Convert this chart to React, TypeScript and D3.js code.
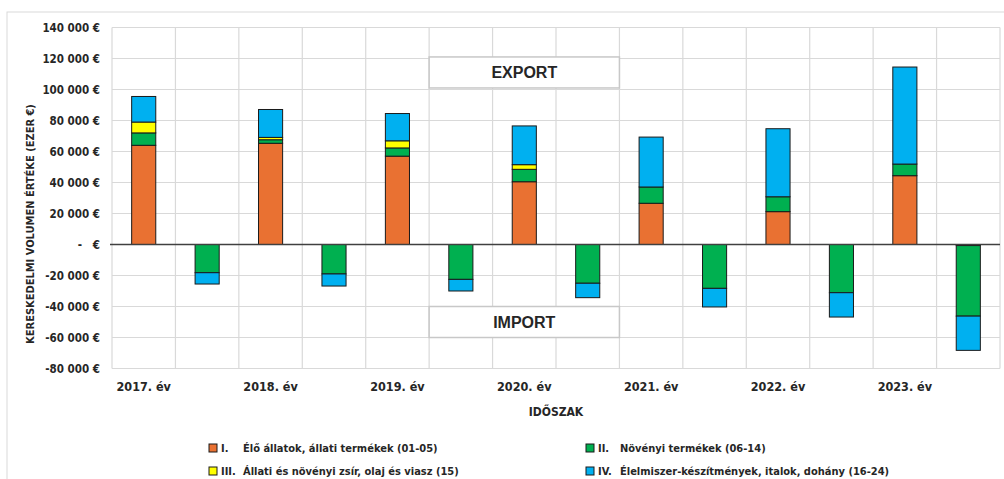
import * as React from 'react';
import * as d3 from 'd3';

// kereskedelmi volumen, ezer €
const years = ['2017. év', '2018. év', '2019. év', '2020. év', '2021. év', '2022. év', '2023. év'];
const seriesKeys = ['I', 'II', 'III', 'IV'];
const seriesColors = ['#E97132', '#00B050', '#FFFF00', '#00B0F0'];
const seriesNumerals = ['I.', 'II.', 'III.', 'IV.'];
const seriesNames = [
  'Élő állatok, állati termékek (01-05)',
  'Növényi termékek (06-14)',
  'Állati és növényi zsír, olaj és viasz (15)',
  'Élelmiszer-készítmények, italok, dohány (16-24)',
];

const exportI = [64000, 65300, 57000, 40500, 26600, 21200, 44400];
const exportII = [8000, 2300, 5300, 8000, 10500, 9600, 7500];
const exportIII = [7000, 1500, 4600, 3000, 0, 0, 0];
const exportIV = [16500, 18000, 17600, 25000, 32200, 43900, 62600];

const importI = [0, 0, 0, 0, 0, 0, -700];
const importII = [-18200, -19000, -22500, -25000, -28300, -31100, -45500];
const importIII = [0, 0, 0, 0, 0, 0, 0];
const importIV = [-7300, -7800, -7500, -9300, -12000, -15700, -22100];

const yTicks = [140000, 120000, 100000, 80000, 60000, 40000, 20000, 0, -20000, -40000, -60000, -80000];

const W = 1004;
const H = 479;
const font = '"Liberation Sans Narrow", "Arial Narrow", "DejaVu Sans Condensed", sans-serif';

type Row = { key: string; label: string; I: number; II: number; III: number; IV: number };

const rows: Row[] = years.flatMap((y, i) => [
  { key: y + '-exp', label: y, I: exportI[i], II: exportII[i], III: exportIII[i], IV: exportIV[i] },
  { key: y + '-imp', label: '', I: importI[i], II: importII[i], III: importIII[i], IV: importIV[i] },
]);

const locale = d3.formatLocale({
  decimal: ',',
  thousands: '\u00a0',
  grouping: [3],
  currency: ['', ' €'],
  minus: '-',
});
const fmt = locale.format(',');
const tickText = (v: number) => (v === 0 ? '-\u00a0\u00a0\u00a0€' : `${fmt(v)}\u00a0€`);

export default function App() {
  const x = d3
    .scaleBand()
    .domain(rows.map((r) => r.key))
    .range([112, 1000])
    .paddingInner(0.62)
    .paddingOuter(0.31);
  const y = d3.scaleLinear().domain([-80000, 140000]).range([368.5, 27.5]);

  const stacked = d3
    .stack<Row>()
    .keys(seriesKeys)
    .offset(d3.stackOffsetDiverging)(rows);

  const step = x.step();
  const [x0, x1] = x.range();
  const boundaries = d3.range(rows.length + 1).map((i) => x0 + i * step);

  // boxes span categories 5..7
  const boxX = x0 + 5 * step;
  const boxW = 3 * step;

  return (
    <svg width={W} height={H} style={{ position: 'fixed', left: 0, top: 0, background: '#fff' }} fontFamily={font}>
      <rect x={7} y={12} width={W + 20} height={H + 20} fill="#fff" stroke="#d9d9d9" strokeWidth={1} />

      {/* grid */}
      <g stroke="#d9d9d9" strokeWidth={1.2}>
        {yTicks.map((t) => (
          <line key={t} x1={x0} x2={x1} y1={y(t)} y2={y(t)} />
        ))}
        {boundaries.map((b, i) => (
          <line key={i} x1={b} x2={b} y1={y(140000)} y2={y(-80000)} />
        ))}
      </g>

      {/* annotation boxes */}
      <rect x={boxX} y={y(121000)} width={boxW} height={y(101000) - y(121000)} fill="#fff" stroke="#c8c8c8" strokeWidth={1.5} />
      <text x={boxX + boxW / 2} y={(y(121000) + y(101000)) / 2} textAnchor="middle" dominantBaseline="central" fontFamily='"Liberation Sans", Arial, sans-serif' fontWeight="bold" fontSize={16} fill="#262626">
        EXPORT
      </text>
      <rect x={boxX} y={y(-40000)} width={boxW} height={y(-60000) - y(-40000)} fill="#fff" stroke="#c8c8c8" strokeWidth={1.5} />
      <text x={boxX + boxW / 2} y={(y(-40000) + y(-60000)) / 2} textAnchor="middle" dominantBaseline="central" fontFamily='"Liberation Sans", Arial, sans-serif' fontWeight="bold" fontSize={16} fill="#262626">
        IMPORT
      </text>

      {/* bars */}
      {stacked.map((s, si) => (
        <g key={s.key} fill={seriesColors[si]} stroke="#1a1a1a" strokeWidth={1}>
          {s.map((d, i) => {
            const top = y(Math.max(d[0], d[1]));
            const bot = y(Math.min(d[0], d[1]));
            return <rect key={i} x={x(rows[i].key)} width={x.bandwidth()} y={top} height={bot - top} />;
          })}
        </g>
      ))}

      {/* zero line */}
      <line x1={x0 - 2} x2={x1} y1={y(0)} y2={y(0)} stroke="#404040" strokeWidth={1.5} />

      {/* y axis labels */}
      <g fontSize={11.5} fontWeight="bold" fill="#262626" textAnchor="end">
        {yTicks.map((t) => (
          <text key={t} x={100} y={y(t)} dominantBaseline="central">
            {tickText(t)}
          </text>
        ))}
      </g>
      <text
        transform="translate(30, 224) rotate(-90)"
        textAnchor="middle"
        dominantBaseline="central"
        fontSize={11}
        fontWeight="bold"
        fill="#262626"
      >
        KERESKEDELMI VOLUMEN ÉRTÉKE (EZER €)
      </text>

      {/* x axis labels */}
      <g fontSize={12.5} fontWeight="bold" fill="#262626" textAnchor="middle">
        {rows.map((r) =>
          r.label ? (
            <text key={r.key} x={(x(r.key) ?? 0) + x.bandwidth() / 2} y={386} dominantBaseline="central">
              {r.label}
            </text>
          ) : null,
        )}
      </g>
      <text x={(x0 + x1) / 2} y={412} textAnchor="middle" dominantBaseline="central" fontSize={12} fontWeight="bold" fill="#262626">
        IDŐSZAK
      </text>

      {/* legend */}
      <g fontSize={11} fontWeight="bold" fill="#262626">
        {seriesKeys.map((k, i) => {
          const lx = i % 2 === 0 ? 209 : 586;
          const ly = i < 2 ? 448 : 471;
          return (
            <g key={k} transform={`translate(${lx}, ${ly})`}>
              <rect x={0} y={-4} width={8} height={8} fill={seriesColors[i]} stroke="#1a1a1a" strokeWidth={1} />
              <text x={12} y={0} dominantBaseline="central">
                {seriesNumerals[i]}
              </text>
              <text x={34} y={0} dominantBaseline="central">
                {seriesNames[i]}
              </text>
            </g>
          );
        })}
      </g>
    </svg>
  );
}
